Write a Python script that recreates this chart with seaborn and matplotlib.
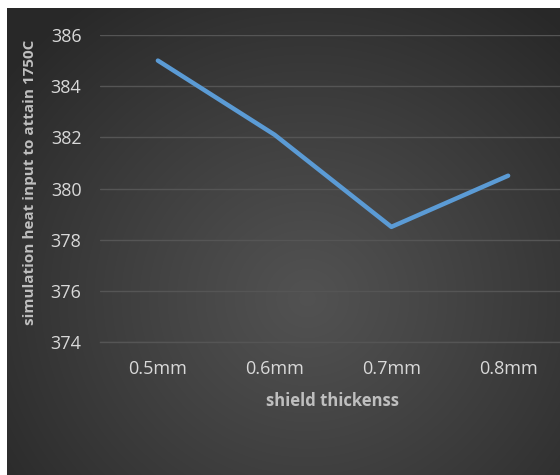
import numpy as np
import pandas as pd
import matplotlib
matplotlib.use("Agg")
import matplotlib.pyplot as plt
import seaborn as sns

# Data
thickness = ["0.5mm", "0.6mm", "0.7mm", "0.8mm"]
heat_input = [385.0, 382.1, 378.5, 380.5]
y_ticks = [374, 376, 378, 380, 382, 384, 386]

df = pd.DataFrame({"thickness": thickness, "heat": heat_input})

sns.set_theme(style="dark")
plt.rcParams["font.family"] = ["Open Sans", "DejaVu Sans"]

W, H = 560, 475
fig = plt.figure(figsize=(W / 100, H / 100), dpi=100)
fig.patch.set_facecolor("white")

# Radial gradient background of the chart area (white margin at top/left)
bg_ax = fig.add_axes([7 / W, 0, 1 - 7 / W, 1 - 8 / H])
bg_ax.set_axis_off()
yy, xx = np.mgrid[0:467, 0:553]
cx, cy = 300, 290
r = np.sqrt(((xx - cx) / 380.0) ** 2 + ((yy - cy) / 360.0) ** 2)
r = np.clip(r, 0, 1)
lum = 0.32 - (0.32 - 0.16) * r ** 1.1
img = np.dstack([lum, lum, lum])
bg_ax.imshow(img, aspect="auto", extent=[0, 1, 0, 1], origin="upper")
bg_ax.set_xlim(0, 1)
bg_ax.set_ylim(0, 1)

ax = fig.add_axes([99.5 / W, 1 - 342 / H, 467 / W, (342 - 35) / H])
ax.patch.set_alpha(0)

sns.lineplot(data=df, x="thickness", y="heat", ax=ax, color="#5b9bd5",
             linewidth=3.2, sort=False, solid_capstyle="round",
             solid_joinstyle="round", zorder=3)

ax.set_xlim(-0.5, 3.5)
ax.set_ylim(374, 386)
ax.set_yticks(y_ticks)
ax.set_yticklabels([str(t) for t in y_ticks])
ax.yaxis.grid(True, color="#555555", linewidth=1.0)
ax.xaxis.grid(False)
for s in ax.spines.values():
    s.set_visible(False)
ax.spines["bottom"].set_visible(True)
ax.spines["bottom"].set_color("#555555")
ax.spines["bottom"].set_linewidth(1.0)

ax.tick_params(axis="y", colors="#d9d9d9", labelsize=13, length=0, pad=13)
ax.tick_params(axis="x", colors="#d9d9d9", labelsize=13, length=0, pad=13)

ax.set_xlabel("shield thickenss", color="#bfbfbf", fontsize=12,
              fontweight="bold", labelpad=10)
ax.set_ylabel("simulation heat input to attain 1750C", color="#bfbfbf",
              fontsize=11, fontweight="bold")
ax.yaxis.set_label_coords(-62 / 467, 0.52)

fig.savefig("out.png", dpi=100, facecolor=fig.get_facecolor())
